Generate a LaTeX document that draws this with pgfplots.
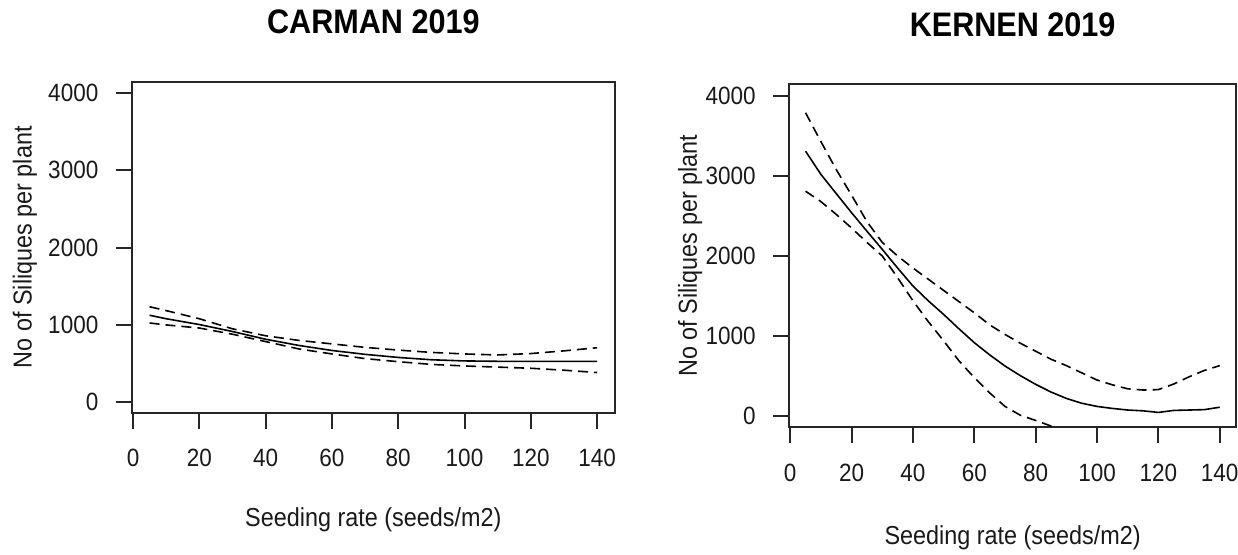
\documentclass[border=0pt]{standalone}
\usepackage{pgfplots}
\pgfplotsset{compat=1.18}
\usepackage{fontspec}
\setmainfont[FakeStretch=0.9]{Liberation Sans}
\begin{document}
\begin{tikzpicture}
\useasboundingbox (0,0) rectangle (619pt,277pt);
\pgfplotsset{
  rstyle/.style={
    scale only axis,
    anchor=south west,
    xmin=-0.4, xmax=145.4,
    xtick={0,20,...,140},
    ytick={0,1000,...,4000},
    tick pos=left,
    tick align=outside,
    major tick length=8pt,
    axis line style={line width=1pt, black!85},
    tick style={line width=1pt, black!85},
    /pgf/number format/assume math mode=true,
    /pgf/number format/1000 sep={},
    tick label style={font=\fontsize{12.5}{15}\selectfont, text=black!90},
    yticklabel style={anchor=east, inner sep=0pt, xshift=-8.5pt},
    xticklabel style={anchor=north, inner sep=0pt, yshift=-10pt},
    label style={font=\fontsize{13}{15}\selectfont, text=black!90},
    clip=true,
  },
  fit/.style={black, line width=0.8pt},
  ci/.style={black, line width=0.8pt, dash pattern=on 5pt off 3pt},
}
% ---------- CARMAN 2019 ----------
\begin{axis}[rstyle,
  at={(65.85pt,70.65pt)}, width=241.65pt, height=165.5pt,
  ymin=-134, ymax=4142,
  title={CARMAN 2019},
  title style={at={(axis description cs:0.5,1.180)}, anchor=center, yshift=-6pt, font=\bfseries\fontsize{17}{20}\selectfont, text=black},
  xlabel={Seeding rate (seeds/m2)},
  xlabel style={at={(axis description cs:0.5,-0.324)}, anchor=center},
  ylabel={No of Siliques per plant},
  ylabel style={at={(axis description cs:-0.2208,0.5)}, anchor=center},
]
\addplot[fit] coordinates {(5,1125)(10,1080)(20,1005)(30,915)(40,815)(50,735)(60,670)(70,620)(80,580)(90,550)(100,535)(110,530)(120,530)(130,530)(140,530)};
\addplot[ci] coordinates {(5,1235)(10,1185)(20,1080)(30,950)(40,860)(50,800)(60,755)(70,710)(80,675)(90,645)(100,625)(110,612)(120,630)(130,665)(140,705)};
\addplot[ci] coordinates {(5,1025)(10,1000)(20,960)(30,880)(40,785)(50,690)(60,625)(70,565)(80,525)(90,490)(100,470)(110,455)(120,440)(130,415)(140,385)};
\end{axis}
% ---------- KERNEN 2019 ----------
\begin{axis}[rstyle,
  at={(394.5pt,63.35pt)}, width=223.65pt, height=171.5pt,
  ymin=-141, ymax=4146,
  title={KERNEN 2019},
  title style={at={(axis description cs:0.5,1.173)}, anchor=center, yshift=-6pt, font=\bfseries\fontsize{17}{20}\selectfont, text=black},
  xlabel={Seeding rate (seeds/m2)},
  xlabel style={at={(axis description cs:0.5,-0.321)}, anchor=center},
  ylabel={No of Siliques per plant},
  ylabel style={at={(axis description cs:-0.221,0.5)}, anchor=center},
]
\addplot[fit] coordinates {(5,3310)(10,3020)(15,2780)(20,2541)(25,2310)(30,2083)(35,1850)(40,1625)(45,1440)(50,1270)(55,1090)(60,917)(65,765)(70,625)(75,505)(80,396)(85,300)(90,220)(95,160)(100,120)(105,95)(110,75)(115,65)(120,45)(125,70)(130,75)(135,80)(140,110)};
\addplot[ci] coordinates {(5,3790)(10,3430)(15,3080)(20,2760)(25,2430)(30,2170)(35,2000)(40,1850)(45,1710)(50,1570)(55,1430)(60,1290)(65,1140)(70,1020)(75,910)(80,810)(85,710)(90,630)(95,540)(100,450)(105,390)(110,340)(115,325)(120,330)(125,400)(130,490)(135,570)(140,630)};
\addplot[ci] coordinates {(5,2810)(10,2680)(15,2520)(20,2350)(25,2170)(30,2000)(35,1730)(40,1440)(45,1180)(50,940)(55,690)(60,480)(65,290)(70,120)(75,10)(80,-55)(85,-125)(90,-250)};
\end{axis}
\end{tikzpicture}
\end{document}
